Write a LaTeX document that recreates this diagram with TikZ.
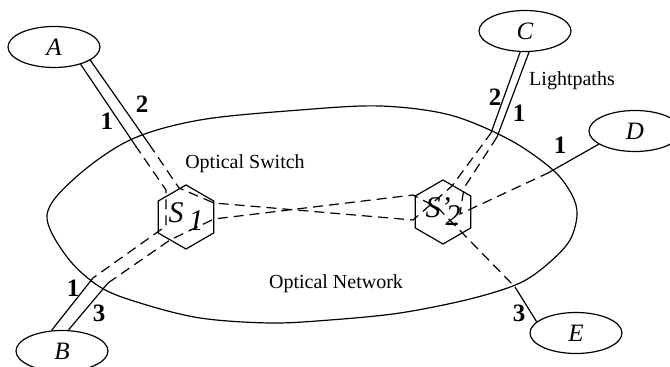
\documentclass[tikz,border=0pt]{standalone}
\usepackage{fontspec}
\setmainfont{Liberation Serif}
\usetikzlibrary{shapes.geometric}

\begin{document}
\begin{tikzpicture}[x=0.5pt,y=-0.5pt,line width=0.6pt]
      \tikzstyle{every node}=[inner sep=0pt]
      \tikzstyle{host}=[draw,ellipse,minimum width=46pt,minimum height=20.5pt,font=\fontsize{12.5}{12.5}\selectfont\itshape]
      \tikzstyle{switch}=[draw,regular polygon,regular polygon sides=6,shape border rotate=30,minimum size=32pt,font=\fontsize{15}{15}\selectfont\itshape]
      \tikzstyle{lp}=[dash pattern=on 5pt off 3pt]
      \tikzstyle{num}=[font=\fontsize{12.5}{12.5}\selectfont\bfseries]

      \useasboundingbox (0,0) rectangle (670,367);

      % the network cloud
      \draw plot[smooth cycle,tension=0.55] coordinates {
        (47,215) (75,178) (130,140) (200,120) (300,110) (380,106) (450,115)
        (510,140) (553,170) (572,195) (577,215) (570,240) (550,262) (520,283)
        (470,299) (400,313) (330,320) (270,323) (200,318) (140,303) (100,287)
        (67,257)};

      \node[host] (a) at (54,47) {A};
      \node[host] (b) at (62,351) {B};
      \node[host] (c) at (525,31) {C};
      \node[host] (d) at (635,131) {D};
      \node[host] (e) at (576,333) {E};

      \node[switch] (s1) at (186,217) {S\raisebox{-4pt}{\,1}};
      \node[switch] (s2) at (443,212) {S\rlap{'}\raisebox{-4pt}{\,2}};

      % edge crossings
      \coordinate (xa1) at (135,145);
      \coordinate (xa2) at (149,144);
      \coordinate (xb1) at (93,278);
      \coordinate (xb3) at (108,283);
      \coordinate (xc2) at (491,133);
      \coordinate (xc1) at (497,137);
      \coordinate (xd1) at (548,173);
      \coordinate (xe3) at (515,287);

      % bends inside S1
      \coordinate (s1a) at (166,190);
      \coordinate (s1b) at (166,226);
      \coordinate (s1c) at (179,188);
      \coordinate (s1d) at (214,203);
      \coordinate (s1e) at (170,240);
      \coordinate (s1f) at (214,219);
      % bends inside S2
      \coordinate (s2a) at (413,195);
      \coordinate (s2b) at (438,208);
      \coordinate (s2c) at (413,220);
      \coordinate (s2d) at (452,186);
      \coordinate (s2e) at (464,188);
      \coordinate (s2f) at (460,214);

      % A -- B
      \draw (a.-33) -- (xa1);
      \draw[lp] (xa1) -- (s1a) -- (s1b) -- (xb1);
      \draw (xb1) -- (b.117);

      % A -- C
      \draw (a.-20) -- (xa2);
      \draw[lp] (xa2) -- (s1c) -- (s1d) -- (s2c) -- (s2d) -- (xc2);
      \draw (xc2) -- (c.-103);

      % B -- E
      \draw (b.73) -- (xb3);
      \draw[lp] (xb3) -- (s1e) -- (s1f) -- (s2a) -- (s2b) -- (xe3);
      \draw (xe3) -- (e.164);

      % C -- D
      \draw (c.-79) -- (xc1);
      \draw[lp] (xc1) -- (s2e) -- (s2f) -- (xd1);
      \draw (xd1) -- (d.-160);

      \node[num] (na1) at (107,121) {1};
      \node[num] (na2) at (142,104) {2};
      \node[num] (nc2) at (495,97) {2};
      \node[num] (nc1) at (519,113) {1};
      \node[num] (nd1) at (560,145) {1};
      \node[num] (nb1) at (73,288) {1};
      \node[num] (nb3) at (99,313) {3};
      \node[num] (ne3) at (519,313) {3};

      \node (sw) at (245,164) {Optical Switch};
      \node (lpt) at (572,81) {Lightpaths};
      \node (net) at (336,284) {Optical Network};

    \end{tikzpicture}
\end{document}
